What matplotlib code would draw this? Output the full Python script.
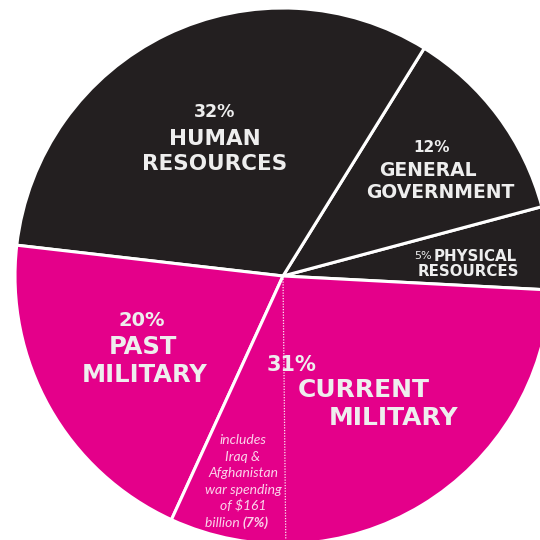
import numpy as np
import matplotlib
matplotlib.use('Agg')
import matplotlib.pyplot as plt

# budget shares (percent), counter-clockwise from the right
categories = ['PHYSICAL RESOURCES', 'GENERAL GOVERNMENT', 'HUMAN RESOURCES',
              'PAST MILITARY', 'CURRENT MILITARY']
shares = [5, 12, 32, 20, 31]
war_share = 7   # Iraq & Afghanistan part of current military

black = '#231f20'
pink = '#e4008a'
colors = [black, black, black, pink, pink]

start = -3.0

fig = plt.figure(figsize=(5.4, 5.4), dpi=100)
ax = fig.add_axes([0, 0, 1, 1])

ax.pie(shares, colors=colors, startangle=start, radius=1.0, center=(0, 0),
       counterclock=True,
       wedgeprops=dict(edgecolor='white', linewidth=2.2))

# dotted split inside current military
ang = np.deg2rad(start + 360 * (sum(shares[:4]) + war_share) / 100)
ax.plot([0, np.cos(ang)], [0, np.sin(ang)], color='white', lw=0.9,
        linestyle=(0, (1, 1.2)), alpha=0.9)

# figure pixels -> data
cx, cy, R = 283, 276, 268
ax.set_xlim(-cx / R, (540 - cx) / R)
ax.set_ylim(-(540 - cy) / R, cy / R)
ax.set_aspect('equal')
ax.axis('off')


def P(px, py):
    return (px - cx) / R, (cy - py) / R


fam = ['DejaVu Sans']
wt = '#eeeeee'

def lab(px, py, s, size, color=wt, weight='bold', style='normal', ha='center'):
    x, y = P(px, py)
    ax.text(x, y, s, ha=ha, va='center', fontsize=size, color=color,
            fontweight=weight, fontstyle=style, family=fam)

# human resources
lab(215, 112, '32%', 12.5)
lab(215, 139, 'HUMAN', 15.5)
lab(215, 164, 'RESOURCES', 15.5)

# general government
lab(432, 147, '12%', 11)
lab(428, 170, 'GENERAL', 13.5)
lab(440, 192, 'GOVERNMENT', 13.5)

# physical resources
lab(414, 256, '5%', 8, weight='normal', ha='left')
lab(434, 256, 'PHYSICAL', 10.8, ha='left')
lab(468, 271, 'RESOURCES', 10.8)

# past military
lab(142, 320, '20%', 14)
lab(143, 347, 'PAST', 17.5)
lab(145, 375, 'MILITARY', 17.5)

# current military
lab(291, 365, '31%', 15)
lab(364, 390, 'CURRENT', 18)
lab(394, 418, 'MILITARY', 18)

# war note
pk = '#fbd3ea'
nfam = ['Lato', 'DejaVu Sans']
note = ['includes', 'Iraq &', 'Afghanistan', 'war spending', 'of $161']
for i, s in enumerate(note):
    x, y = P(243, 440 + i * 16.6)
    ax.text(x, y, s, ha='center', va='center', fontsize=10, color=pk,
            fontstyle='italic', family=nfam)
x, y = P(243, 523)
ax.text(x, y, 'billion ', ha='right', va='center', fontsize=10, color=pk,
        fontstyle='italic', family=nfam)
ax.text(x, y, '(7%)', ha='left', va='center', fontsize=10, color=pk,
        fontstyle='italic', fontweight='bold', family=nfam)

plt.savefig('out.png', dpi=100, facecolor='white')
